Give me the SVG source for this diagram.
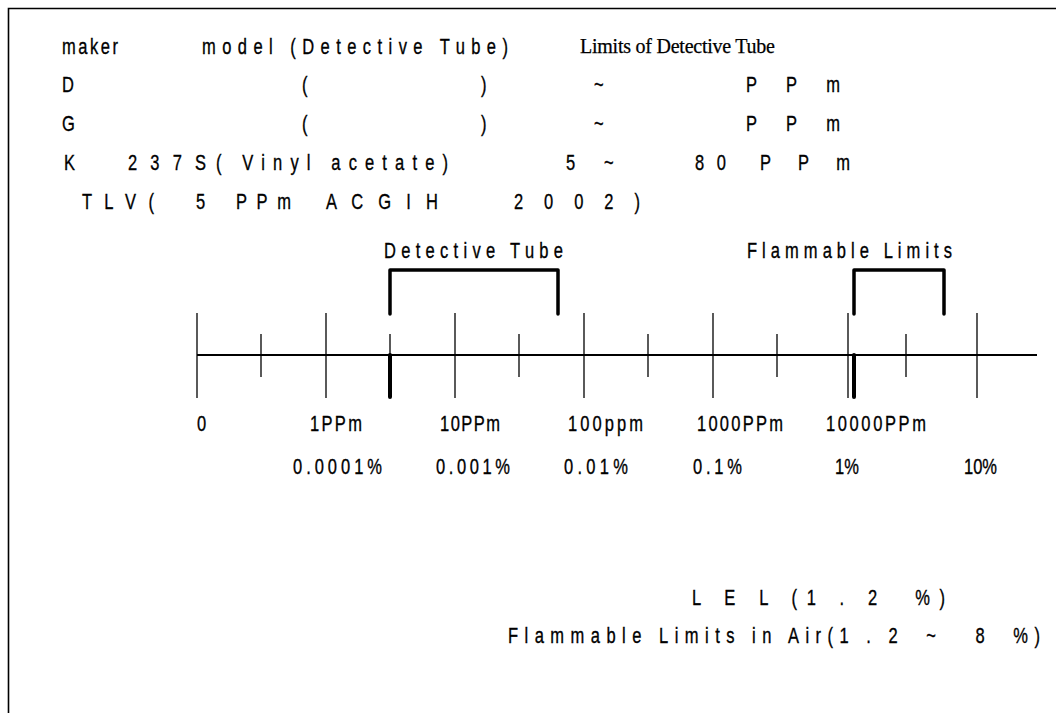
<svg xmlns="http://www.w3.org/2000/svg" width="1056" height="713" viewBox="0 0 1056 713">
<style>
.t{font-family:"Liberation Sans",Arial,sans-serif;font-size:22px;fill:#000;stroke:#000;stroke-width:0.35}
.s{font-family:"Liberation Serif","Times New Roman",serif;font-size:20px;fill:#000;stroke:#000;stroke-width:0.25}
.ax{stroke:#000;stroke-width:2.2;fill:none}
.tk{stroke:#000;stroke-width:1.3;fill:none}
.thick{stroke:#000;stroke-width:4;fill:none;stroke-linecap:round}
.br{stroke:#000;stroke-width:3.5;fill:none;stroke-linejoin:round;stroke-linecap:round}
</style>
<rect x="0" y="0" width="1056" height="713" fill="#fff"/>
<g id="frame"><path d="M8.5,713 V8.5 H1056" stroke="#000" stroke-width="1.6" fill="none"/></g>
<g id="header">
<text class="t" transform="translate(62,54) scale(0.75,1)" textLength="74.7" lengthAdjust="spacing">maker</text>
<text class="t" transform="translate(202,54) scale(0.75,1)" textLength="408" lengthAdjust="spacing">model (Detective Tube)</text>
<text class="s" x="580" y="53" textLength="195" lengthAdjust="spacing">Limits of Detective Tube</text>
</g>
<g id="row-d">
<text class="t" transform="translate(62,92) scale(0.75,1)">D</text>
<text class="t" transform="translate(302,92) scale(0.75,1)">(</text>
<text class="t" transform="translate(481,92) scale(0.75,1)">)</text>
<text class="t" transform="translate(594,92) scale(0.75,1)">~</text>
<text class="t" transform="translate(746,92) scale(0.75,1)" textLength="125.3" lengthAdjust="spacing">P P m</text>
</g>
<g id="row-g">
<text class="t" transform="translate(62,131) scale(0.75,1)">G</text>
<text class="t" transform="translate(302,131) scale(0.75,1)">(</text>
<text class="t" transform="translate(481,131) scale(0.75,1)">)</text>
<text class="t" transform="translate(594,131) scale(0.75,1)">~</text>
<text class="t" transform="translate(746,131) scale(0.75,1)" textLength="125.3" lengthAdjust="spacing">P P m</text>
</g>
<g id="row-k">
<text class="t" transform="translate(64,170) scale(0.75,1)">K</text>
<text class="t" transform="translate(128,170) scale(0.75,1)" textLength="104" lengthAdjust="spacing">2 3 7 S</text>
<text class="t" transform="translate(216,170) scale(0.75,1)" textLength="309.3" lengthAdjust="spacing">( Vinyl acetate)</text>
<text class="t" transform="translate(566,170) scale(0.75,1)">5</text>
<text class="t" transform="translate(604,170) scale(0.75,1)">~</text>
<text class="t" transform="translate(695,170) scale(0.75,1)" textLength="41.3" lengthAdjust="spacing">8 0</text>
<text class="t" transform="translate(760,170) scale(0.75,1)" textLength="120" lengthAdjust="spacing">P P m</text>
</g>
<g id="tlv">
<text class="t" transform="translate(82,209) scale(0.75,1)" textLength="96" lengthAdjust="spacing">T L V (</text>
<text class="t" transform="translate(196,209) scale(0.75,1)">5</text>
<text class="t" transform="translate(236,209) scale(0.75,1)" textLength="73.3" lengthAdjust="spacing">P P m</text>
<text class="t" transform="translate(326,209) scale(0.75,1)" textLength="149.3" lengthAdjust="spacing">A C G I H</text>
<text class="t" transform="translate(514,209) scale(0.75,1)" textLength="168" lengthAdjust="spacing">2 0 0 2 )</text>
</g>
<g id="detective-tube">
<text class="t" transform="translate(384,258) scale(0.75,1)" textLength="238.7" lengthAdjust="spacing">Detective Tube</text>
<path class="br" d="M390,314 V270 H558 V314"/>
</g>
<g id="flammable-limits">
<text class="t" transform="translate(747,258) scale(0.75,1)" textLength="273.3" lengthAdjust="spacing">Flammable Limits</text>
<path class="br" d="M854,314 V270 H944 V314"/>
</g>
<g id="connectors">
<line class="ax" x1="197" y1="355" x2="1037" y2="355"/>
<g class="tk">
<line x1="197" y1="313" x2="197" y2="398"/>
<line x1="326" y1="313" x2="326" y2="398"/>
<line x1="455" y1="313" x2="455" y2="398"/>
<line x1="584" y1="313" x2="584" y2="398"/>
<line x1="713" y1="313" x2="713" y2="398"/>
<line x1="848" y1="313" x2="848" y2="398"/>
<line x1="977" y1="313" x2="977" y2="398"/>
<line x1="261" y1="334" x2="261" y2="377"/>
<line x1="390" y1="334" x2="390" y2="356"/>
<line x1="519" y1="334" x2="519" y2="377"/>
<line x1="648" y1="334" x2="648" y2="377"/>
<line x1="777" y1="334" x2="777" y2="377"/>
<line x1="906" y1="334" x2="906" y2="377"/>
</g>
<line class="thick" x1="390" y1="355" x2="390" y2="397"/>
<line class="thick" x1="854" y1="355" x2="854" y2="397"/>
</g>
<g id="ppm-labels">
<text class="t" transform="translate(197,431) scale(0.75,1)">0</text>
<text class="t" transform="translate(310,431) scale(0.75,1)" textLength="69.3" lengthAdjust="spacing">1PPm</text>
<text class="t" transform="translate(440,431) scale(0.75,1)" textLength="80" lengthAdjust="spacing">10PPm</text>
<text class="t" transform="translate(568,431) scale(0.75,1)" textLength="100" lengthAdjust="spacing">100ppm</text>
<text class="t" transform="translate(697,431) scale(0.75,1)" textLength="114.7" lengthAdjust="spacing">1000PPm</text>
<text class="t" transform="translate(826,431) scale(0.75,1)" textLength="133.3" lengthAdjust="spacing">10000PPm</text>
</g>
<g id="percent-labels">
<text class="t" transform="translate(293,474) scale(0.75,1)" textLength="118.7" lengthAdjust="spacing">0.0001%</text>
<text class="t" transform="translate(436,474) scale(0.75,1)" textLength="98.7" lengthAdjust="spacing">0.001%</text>
<text class="t" transform="translate(564,474) scale(0.75,1)" textLength="85.3" lengthAdjust="spacing">0.01%</text>
<text class="t" transform="translate(693,474) scale(0.75,1)" textLength="65.3" lengthAdjust="spacing">0.1%</text>
<text class="t" transform="translate(835,474) scale(0.75,1)">1%</text>
<text class="t" transform="translate(964,474) scale(0.75,1)">10%</text>
</g>
<g id="lel">
<text class="t" transform="translate(692,605) scale(0.75,1)" textLength="337.3" lengthAdjust="spacing" xml:space="preserve">L E L (1 . 2  %)</text>
</g>
<g id="flammable-air">
<text class="t" transform="translate(508,643) scale(0.75,1)" textLength="709.3" lengthAdjust="spacing" xml:space="preserve">Flammable Limits in Air(1 . 2  ~   8  %)</text>
</g>
</svg>
